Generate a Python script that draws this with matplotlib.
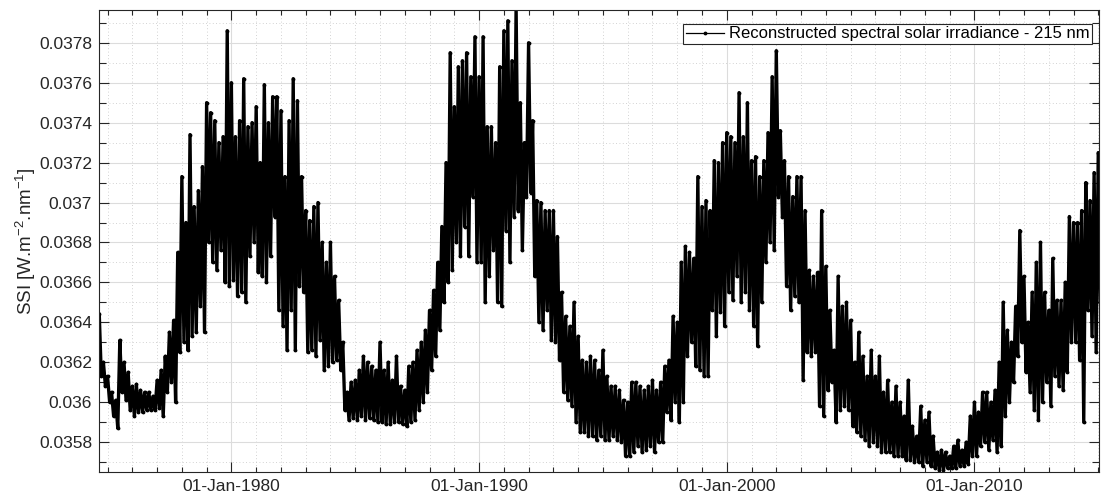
import numpy as np
import pandas as pd
import matplotlib
matplotlib.use('Agg')
import matplotlib.pyplot as plt
import matplotlib.dates as mdates
from matplotlib.ticker import MultipleLocator, FuncFormatter

plt.rcParams['font.family'] = ['Liberation Sans', 'DejaVu Sans']
plt.rcParams['mathtext.default'] = 'regular'

# Bimonthly upper / lower envelope readings of the SSI (units of 1e-4 W.m-2.nm-1)
# bins: Jan-Feb, Mar-Apr, May-Jun, Jul-Aug, Sep-Oct, Nov-Dec (1974 starts in Sep)
upper_1974_79 = [364.4, 362.0,
                 361.3, 360.5, 360.1, 363.1, 362.0, 361.5,
                 360.8, 360.9, 360.6, 360.5, 360.5, 360.3,
                 361.1, 361.6, 362.3, 363.5, 364.1, 367.5,
                 371.3, 369.0, 373.4, 369.8, 370.6, 371.8,
                 375.0, 374.5, 374.1, 373.0, 373.3, 378.6]
lower_1974_79 = [361.3, 360.8,
                 360.0, 359.3, 358.7, 360.5, 360.1, 359.6,
                 359.3, 359.5, 359.5, 359.6, 359.6, 359.6,
                 359.7, 359.3, 360.5, 361.0, 360.0, 362.5,
                 363.0, 362.6, 363.3, 363.5, 364.8, 363.5,
                 368.0, 367.0, 366.6, 367.6, 366.0, 365.8]

upper_1980s = [376.0, 373.3, 374.1, 376.2, 373.8, 374.0,
               374.8, 372.0, 375.9, 374.0, 375.3, 375.3,
               374.6, 371.3, 374.1, 376.2, 375.1, 371.3,
               369.6, 369.1, 369.8, 370.0, 368.0, 367.0,
               368.0, 366.3, 365.1, 363.0, 360.5, 361.0,
               361.1, 361.6, 362.3, 362.0, 361.8, 361.6,
               363.0, 361.6, 362.0, 361.1, 362.3, 360.8,
               360.6, 361.8, 362.0, 362.6, 363.0, 363.6,
               364.6, 365.6, 367.0, 368.8, 372.0, 377.5,
               374.8, 376.8, 377.1, 377.5, 376.3, 378.3]
lower_1980s = [366.1, 365.3, 365.5, 365.0, 367.3, 368.0,
               366.5, 366.3, 366.0, 367.3, 369.3, 364.6,
               363.8, 362.6, 364.6, 362.6, 365.8, 365.5,
               362.5, 362.6, 362.3, 363.1, 361.6, 361.8,
               362.0, 362.1, 361.6, 359.6, 359.1, 359.2,
               359.1, 359.3, 359.1, 359.2, 359.1, 359.0,
               359.0, 358.9, 358.9, 359.0, 359.0, 358.9,
               358.8, 359.0, 359.1, 359.6, 360.0, 360.5,
               361.6, 362.3, 363.6, 365.0, 366.0, 366.6,
               368.0, 367.3, 368.8, 367.3, 370.3, 367.0]

upper_1990s = [376.3, 378.3, 373.8, 373.8, 373.0, 376.8,
               378.6, 379.1, 377.1, 379.8, 375.0, 373.0,
               378.0, 374.1, 370.1, 370.0, 369.6, 369.6,
               369.6, 368.3, 365.5, 364.3, 363.8, 365.0,
               363.3, 362.1, 362.0, 362.3, 362.1, 361.6,
               362.6, 361.3, 360.8, 360.8, 360.6, 360.1,
               360.0, 361.0, 361.0, 360.8, 360.6, 360.8,
               361.1, 360.6, 361.0, 361.8, 362.1, 364.3,
               364.0, 367.0, 367.8, 367.5, 367.2, 371.3,
               369.8, 370.1, 369.6, 372.1, 372.0, 373.0]
lower_1990s = [367.0, 365.0, 366.3, 367.6, 365.0, 364.8,
               368.6, 367.0, 369.3, 369.6, 367.6, 370.3,
               370.5, 366.3, 364.0, 363.6, 364.6, 363.1,
               363.0, 362.1, 360.5, 360.1, 359.8, 359.0,
               358.5, 358.5, 358.3, 358.3, 358.1, 358.3,
               358.1, 358.1, 358.3, 358.1, 358.0, 357.3,
               357.3, 357.5, 357.8, 357.5, 357.6, 357.8,
               357.5, 358.0, 358.0, 359.5, 359.1, 360.0,
               359.0, 360.0, 362.3, 363.0, 361.8, 361.6,
               361.3, 361.3, 364.6, 363.3, 364.5, 363.8]

upper_2000s = [373.5, 373.3, 373.0, 375.5, 373.3, 375.0,
               372.1, 372.3, 371.3, 372.1, 373.5, 376.3,
               377.6, 373.6, 372.1, 371.3, 370.3, 371.3,
               371.3, 369.6, 366.6, 366.3, 366.5, 369.6,
               366.8, 364.6, 362.6, 366.3, 364.8, 365.0,
               364.1, 362.0, 363.5, 362.3, 361.3, 362.6,
               361.3, 362.3, 360.5, 361.1, 360.0, 360.8,
               360.0, 359.3, 361.1, 358.8, 358.3, 359.8,
               359.1, 359.5, 358.3, 357.5, 357.6, 357.5,
               357.3, 357.8, 358.1, 357.6, 358.0, 359.3]
lower_2000s = [365.5, 365.1, 366.3, 365.0, 365.5, 364.6,
               363.8, 362.8, 365.0, 367.0, 368.0, 367.6,
               370.3, 369.3, 365.8, 364.6, 365.3, 365.0,
               361.1, 362.5, 362.3, 362.5, 359.8, 359.3,
               360.6, 361.0, 359.0, 359.6, 359.8, 359.6,
               358.8, 358.5, 358.3, 358.1, 357.8, 358.0,
               357.8, 357.5, 357.5, 357.5, 357.3, 357.3,
               357.3, 357.1, 357.1, 357.0, 357.0, 356.8,
               357.0, 356.8, 356.7, 356.6, 356.6, 356.7,
               356.7, 356.7, 356.8, 356.8, 356.9, 357.3]

upper_2010s = [360.0, 359.5, 360.5, 360.5, 360.0, 360.6,
               362.0, 365.0, 363.6, 363.0, 364.8, 368.6,
               366.3, 364.0, 365.5, 367.0, 368.0, 365.5,
               364.6, 367.2, 365.1, 365.1, 366.0, 369.3,
               369.0, 369.0, 369.6, 371.0, 370.1, 371.5,
               372.5]
lower_2010s = [357.3, 357.8, 358.0, 357.6, 358.1, 357.5,
               357.8, 359.3, 360.0, 361.0, 362.3, 363.0,
               361.5, 360.5, 359.6, 359.1, 360.0, 361.0,
               359.8, 361.3, 360.8, 360.6, 361.5, 363.0,
               363.0, 362.1, 359.0, 364.6, 363.3, 362.5,
               365.0]

upper = np.array(upper_1974_79 + upper_1980s + upper_1990s + upper_2000s + upper_2010s)
lower = np.array(lower_1974_79 + lower_1980s + lower_1990s + lower_2000s + lower_2010s)
n = len(upper)
ssi = np.empty(2 * n)
ssi[0::2] = upper
ssi[1::2] = lower
ssi = ssi * 1e-4
dates = pd.date_range('1974-09-01', periods=2 * n, freq='MS')

label = 'Reconstructed spectral solar irradiance - 215 nm'
dark = '#262626'

fig = plt.figure(figsize=(11.02, 4.95), dpi=100)
ax = fig.add_axes([99 / 1102, 1 - 472 / 495, 1000 / 1102, 462 / 495])

ax.plot(dates, ssi, color='black', lw=2.4, marker='.', markersize=3.5,
        solid_joinstyle='round', label=label)

ax.set_xlim(pd.Timestamp('1974-08-28'), pd.Timestamp('2015-01-12'))
ax.set_ylim(0.035651, 0.037964)

ax.xaxis.set_major_locator(mdates.YearLocator(10))
ax.xaxis.set_minor_locator(mdates.YearLocator(1))
ax.xaxis.set_major_formatter(mdates.DateFormatter('%d-%b-%Y'))
ax.yaxis.set_major_locator(MultipleLocator(0.0002))
ax.yaxis.set_minor_locator(MultipleLocator(0.0001))
ax.yaxis.set_major_formatter(FuncFormatter(lambda v, p: '{:g}'.format(round(v, 6))))

ax.grid(True, which='major', color='#dcdcdc', lw=0.8, ls='-')
ax.grid(True, which='minor', color='#c4c4c4', lw=0.6, ls=(0, (1, 3)))
ax.set_axisbelow(True)

ax.tick_params(which='both', direction='in', top=True, right=True, colors=dark,
               labelsize=12.5, width=0.8)
ax.tick_params(which='major', length=7, pad=5)
ax.tick_params(axis='x', which='minor', length=3.5)
ax.tick_params(axis='y', which='minor', length=5)
for s in ax.spines.values():
    s.set_color(dark)
    s.set_linewidth(0.8)

ax.set_ylabel('SSI [W.m$^{-2}$.nm$^{-1}$]', fontsize=13.5, color=dark, labelpad=1)

leg = ax.legend(handles=[plt.Line2D([], [], color='black', lw=0.9, marker='.',
                                    markersize=3.5)],
                labels=[label], loc='upper right', bbox_to_anchor=(0.993, 0.9697),
                borderaxespad=0, fontsize=12, frameon=True, fancybox=False,
                framealpha=1, edgecolor=dark, borderpad=0.15, handlelength=2.3,
                handletextpad=0.3, numpoints=1)
leg.get_frame().set_linewidth(0.8)

fig.savefig('out.png', dpi=100)
